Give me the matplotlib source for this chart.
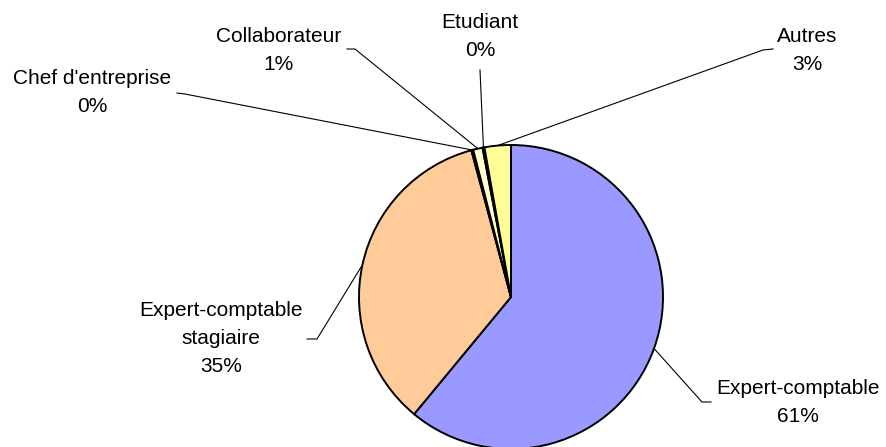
import numpy as np
import matplotlib.pyplot as plt

plt.rcParams['font.family'] = ['Liberation Sans', 'DejaVu Sans']

# donnees (part en %)
categories = ['Expert-comptable', 'Expert-comptable\nstagiaire', "Chef d'entreprise",
              'Collaborateur', 'Etudiant', 'Autres']
valeurs = [61.0, 34.8, 0.2, 1.0, 0.2, 2.8]
couleurs = ['#9999FF', '#FFCC99', '#FFCC99', '#FFFFCC', '#FFFFCC', '#FFFF99']

# mise en page (pixels, y depuis le haut)
W, H = 886, 447
cx, cy, R = 511, 297, 152
# centre texte (x, y 1ere ligne), bout du trait horizontal, coude
pos_texte = [(798, 388), (221, 310), (92, 79), (279, 37), (480, 23), (807, 36)]
trait_bout = [(711, 402), (307, 339), (177, 93), (347, 49), (480, 70), (773, 49)]
trait_coude = [(702, 402), (317, 339), (185, 94), (355, 49), (480, 70), (763, 50)]

def Y(y):
    return H - y

fig = plt.figure(figsize=(W / 100, H / 100), dpi=100)
ax = fig.add_axes([0, 0, 1, 1])

ax.pie(valeurs, colors=couleurs, startangle=90, counterclock=False,
       center=(cx, Y(cy)), radius=R,
       wedgeprops=dict(edgecolor='black', linewidth=1.4))

total = sum(valeurs)
cum = 0
for i, (nom, v) in enumerate(zip(categories, valeurs)):
    mid = 90 - 360 * (cum + v / 2) / total
    cum += v
    px = cx + R * np.cos(np.radians(mid))
    py = Y(cy) + R * np.sin(np.radians(mid))
    bx, by = trait_bout[i]
    kx, ky = trait_coude[i]
    ax.plot([bx, kx, px], [Y(by), Y(ky), py], color='black', lw=0.8)
    tx, ty = pos_texte[i]
    lignes = nom.split('\n') + ['%d%%' % round(v / total * 100)]
    for j, l in enumerate(lignes):
        ax.text(tx, Y(ty + j * 28), l, ha='center', va='center', fontsize=15)

ax.set_xlim(0, W)
ax.set_ylim(0, H)
ax.set_aspect('auto')
ax.axis('off')

fig.savefig('out.png', dpi=100)
